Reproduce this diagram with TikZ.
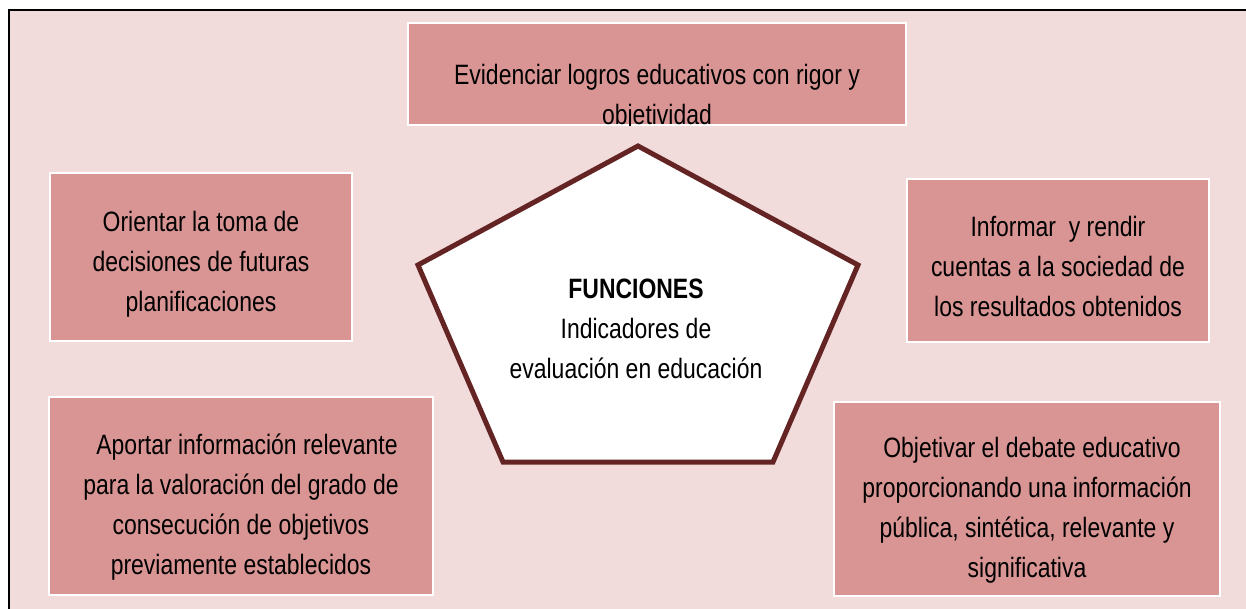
\documentclass[tikz,border=0pt]{standalone}
\usepackage{fontspec}
\setmainfont[FakeStretch=0.82]{Liberation Sans}
\usepackage{xcolor}
\definecolor{fondo}{HTML}{F2DCDB}
\definecolor{rosa}{HTML}{D99594}
\definecolor{granate}{HTML}{632423}
\tikzset{
  caja/.style={draw=white,fill=rosa,line width=1.5pt,inner sep=0pt},
  texto/.style={align=center,font=\fontsize{28}{40}\selectfont,text=black}
}

\begin{document}
\begin{tikzpicture}[x=1pt,y=-1pt]
\useasboundingbox (0,0) rectangle (1246,608);
\clip (0,0) rectangle (1246,608);
\draw[fill=fondo,line width=2pt](9,10) rectangle (1252,614);
% cajas
\node[caja,minimum width=498pt,minimum height=102pt](evid)at(657,74){};
\node[caja,minimum width=302pt,minimum height=168pt](orient)at(201,257){};
\node[caja,minimum width=384pt,minimum height=198pt](aport)at(241,496){};
\node[caja,minimum width=302pt,minimum height=163pt](inform)at(1058,260.5){};
\node[caja,minimum width=386pt,minimum height=194pt](objet)at(1027,499){};
% pentagono
\coordinate (p1) at (638,146);\coordinate (p2) at (858,265);
\coordinate (p3) at (773,462);\coordinate (p4) at (503,462);
\coordinate (p5) at (418,265);
\draw[granate,fill=white,line width=5pt,line join=miter](p1)--(p2)--(p3)--(p4)--(p5)--cycle;
% textos
\begin{scope}
\clip (evid.north west) rectangle (evid.south east);
\node[texto,anchor=north](tevid)at([yshift=-38pt]evid.north){Evidenciar logros educativos con rigor y\\objetividad};
\end{scope}
\node[texto](torient)at([yshift=-7pt]orient.center){Orientar la toma de\\decisiones de futuras\\planificaciones};
\node[texto](taport)at([yshift=-11pt]aport.center){\hspace{12pt}Aportar información relevante\\para la valoración del grado de\\consecución de objetivos\\previamente establecidos};
\node[texto](tinform)at([yshift=-6pt]inform.center){Informar\ \ y rendir\\cuentas a la sociedad de\\los resultados obtenidos};
\node[texto](tobjet)at([yshift=-11pt]objet.center){\hspace{10pt}Objetivar el debate educativo\\proporcionando una información\\pública, sintética, relevante y\\significativa};
\node[texto](tfunc)at(636,329){\textbf{FUNCIONES}\\Indicadores de\\evaluación en educación};
\end{tikzpicture}
\end{document}
